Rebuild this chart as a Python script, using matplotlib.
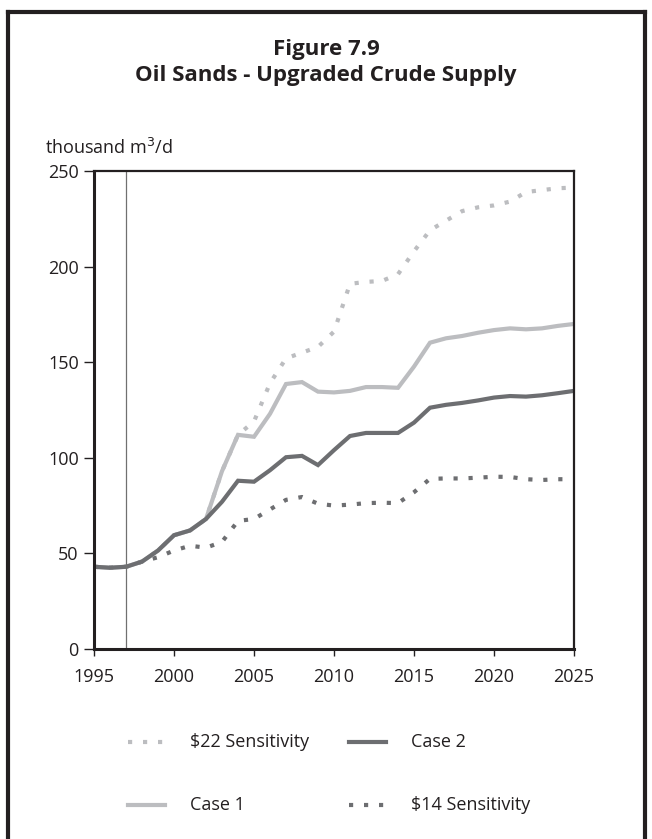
import numpy as np
import matplotlib.pyplot as plt
from matplotlib.lines import Line2D

plt.rcParams['font.family'] = ['Open Sans', 'DejaVu Sans']

years = np.arange(1995, 2026)

# thousand m3/d
case2 = [43, 42.5, 43, 45.7, 51.5, 59.5, 62, 68, 77, 88, 87.5, 93.5, 100.3, 101, 96.2, 104,
         111.4, 113, 113, 113, 118.4, 126.2, 127.7, 128.7, 130, 131.5, 132.3, 132, 132.7, 133.8, 135]
case1 = [43, 42.5, 43, 45.7, 51.5, 59.5, 62, 68, 93, 112, 111, 123, 138.6, 139.6, 134.6, 134.2,
         135, 137, 137, 136.6, 147.7, 160.2, 162.5, 163.7, 165.4, 166.8, 167.7, 167.2, 167.7, 169, 170]
sens22 = [43, 42.5, 43, 45.7, 51.5, 59.5, 62, 68, 93, 112, 119, 139, 152, 155, 158, 166,
          191, 192, 192.5, 196, 208, 219, 224, 229, 231, 232, 234, 239, 240, 241, 241.3]
sens14 = [43, 42.5, 43, 45.7, 48, 51.5, 54, 53, 56, 67, 68, 73, 78, 79.5, 76, 75,
          75.5, 76.3, 76.5, 76.3, 82, 89, 89.2, 89.2, 89.6, 90.1, 90, 88.8, 88.4, 88.8, 88.8]

light = '#bcbdc0'
dark = '#6d6e71'
ink = '#231f20'

fig = plt.figure(figsize=(6.52, 8.39), dpi=100)
ax = fig.add_axes([94 / 652, 1 - 649 / 839, 480 / 652, 478 / 839])

dots = (0, (1, 2.6))
ax.plot(years, sens22, color=light, lw=3, ls=dots, dash_capstyle='butt')
ax.plot(years, sens14, color=dark, lw=3, ls=dots, dash_capstyle='butt')
ax.plot(years, case1, color=light, lw=3, solid_joinstyle='miter')
ax.plot(years, case2, color=dark, lw=3, solid_joinstyle='miter')
ax.plot([1997, 1997], [0, 250], color='#707070', lw=0.9)

ax.set_xlim(1995, 2025)
ax.set_ylim(0, 250)
ax.set_xticks(np.arange(1995, 2026, 5))
ax.set_yticks(np.arange(0, 251, 50))
ax.tick_params(direction='out', width=1, labelsize=13, colors=ink)
ax.tick_params(axis='x', length=5, pad=9)
ax.tick_params(axis='y', length=7, pad=4)
for s in ['left', 'bottom']:
    ax.spines[s].set_linewidth(2.2)
for s in ['top', 'right']:
    ax.spines[s].set_linewidth(1.6)
for s in ax.spines.values():
    s.set_color(ink)

fig.text(45 / 652, 1 - 148 / 839, 'thousand m$^3$/d', fontsize=13, color=ink,
         va='center', ha='left')

fig.text(0.5, 1 - 50 / 839, 'Figure 7.9', fontsize=16, fontweight='bold',
         ha='center', va='center', color=ink)
fig.text(0.5, 1 - 76 / 839, 'Oil Sands - Upgraded Crude Supply', fontsize=16,
         fontweight='bold', ha='center', va='center', color=ink)

# legend drawn by hand in figure coords
leg = [(128, 742, light, dots, '$22 Sensitivity'), (349, 742, dark, '-', 'Case 2'),
       (128, 805, light, '-', 'Case 1'), (349, 805, dark, dots, '$14 Sensitivity')]
for x0, y0, c, ls, lab in leg:
    fig.add_artist(Line2D([x0 / 652, (x0 + 37) / 652], [1 - y0 / 839, 1 - y0 / 839],
                          color=c, lw=3, ls=ls, dash_capstyle='butt'))
    fig.text((x0 + 62) / 652, 1 - y0 / 839, lab, fontsize=13, va='center', ha='left',
             color=ink)

# page border
for xs, ys in [([8 / 652, 8 / 652], [0, 1 - 12 / 839]),
               ([8 / 652, 645 / 652], [1 - 12 / 839, 1 - 12 / 839]),
               ([645 / 652, 645 / 652], [1 - 12 / 839, 0])]:
    fig.add_artist(Line2D(xs, ys, color=ink, lw=3))

fig.savefig('out.png', dpi=100)
